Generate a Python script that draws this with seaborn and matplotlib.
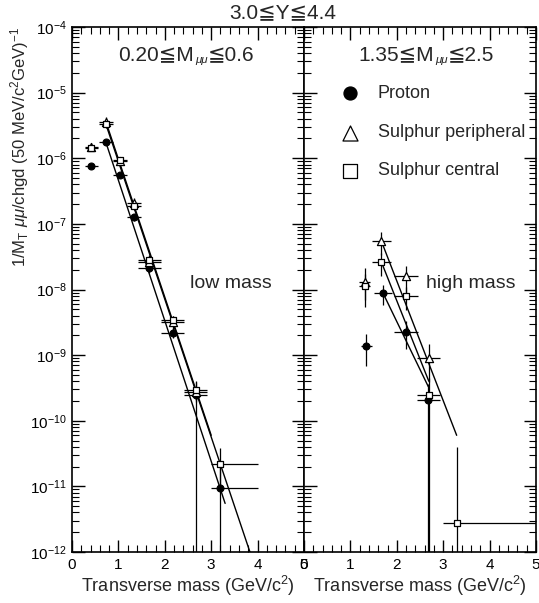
import numpy as np
import pandas as pd
import matplotlib
matplotlib.use("Agg")
import matplotlib.pyplot as plt
import matplotlib.ticker as mticker
import seaborn as sns

sns.set_theme(style="ticks")
plt.rcParams['font.family'] = ['Liberation Sans', 'DejaVu Sans', 'Noto Sans CJK JP']
plt.rcParams['mathtext.fontset'] = 'custom'
plt.rcParams['mathtext.rm'] = 'Liberation Sans'
plt.rcParams['mathtext.it'] = 'Liberation Sans:italic'
plt.rcParams['mathtext.bf'] = 'Liberation Sans:bold'

# ---------------- data ----------------
# Left panel: low mass 0.20 <= M <= 0.6
low_p_x = [0.42, 0.73, 1.03, 1.34, 1.67, 2.17, 2.67, 3.20]
low_p_y = [7.7e-7, 1.75e-6, 5.5e-7, 1.27e-7, 2.1e-8, 2.2e-9, 2.45e-10, 9.3e-12]
low_p_xlo = [0.15, 0.15, 0.15, 0.15, 0.25, 0.25, 0.25, 0.20]
low_p_xhi = [0.15, 0.15, 0.15, 0.15, 0.25, 0.25, 0.25, 0.80]
low_p_ylo = [0.5e-7, 1.5e-7, 0.5e-7, 1.5e-8, 3e-9, 4e-10, 5e-11, 9.29e-12]
low_p_yhi = [0.5e-7, 1.5e-7, 0.5e-7, 1.5e-8, 3e-9, 4e-10, 5e-11, 1.5e-11]

low_sp_x = [0.42, 0.73, 1.03, 1.34, 1.67, 2.17, 2.67]
low_sp_y = [1.5e-6, 3.6e-6, 9.0e-7, 2.1e-7, 2.6e-8, 3.2e-9, 2.7e-10]
low_sp_xlo = [0.15, 0.15, 0.15, 0.15, 0.25, 0.25, 0.25]
low_sp_xhi = [0.15, 0.15, 0.15, 0.15, 0.25, 0.25, 0.25]
low_sp_ylo = [2e-7, 6e-7, 1.5e-7, 4e-8, 6e-9, 8e-10, 2.69e-10]
low_sp_yhi = [2e-7, 6e-7, 1.5e-7, 4e-8, 6e-9, 8e-10, 1.2e-10]

low_sc_x = [0.42, 0.73, 1.03, 1.34, 1.67, 2.17, 2.67, 3.20]
low_sc_y = [1.45e-6, 3.3e-6, 9.3e-7, 1.9e-7, 2.8e-8, 3.4e-9, 2.9e-10, 2.2e-11]
low_sc_xlo = [0.15, 0.15, 0.15, 0.15, 0.25, 0.25, 0.25, 0.20]
low_sc_xhi = [0.15, 0.15, 0.15, 0.15, 0.25, 0.25, 0.25, 0.80]
low_sc_ylo = [1.5e-7, 4e-7, 1.2e-7, 3e-8, 5e-9, 6e-10, 8e-11, 1.2e-11]
low_sc_yhi = [1.5e-7, 4e-7, 1.2e-7, 3e-8, 5e-9, 6e-10, 1.2e-10, 1.6e-11]

# Right panel: high mass 1.35 <= M <= 2.5
high_p_x = [1.34, 1.70, 2.20, 2.68]
high_p_y = [1.38e-9, 8.9e-9, 2.26e-9, 2.1e-10]
high_p_xlo = [0.12, 0.20, 0.25, 0.25]
high_p_xhi = [0.12, 0.20, 0.25, 0.25]
high_p_ylo = [7e-10, 3e-9, 1e-9, 2.09e-10]
high_p_yhi = [7e-10, 3e-9, 1e-9, 1.5e-10]

high_sp_x = [1.31, 1.67, 2.20, 2.69]
high_sp_y = [1.3e-8, 5.4e-8, 1.58e-8, 8.9e-10]
high_sp_xlo = [0.12, 0.20, 0.25, 0.25]
high_sp_xhi = [0.12, 0.20, 0.25, 0.25]
high_sp_ylo = [6e-9, 2e-8, 7e-9, 5e-10]
high_sp_yhi = [8e-9, 2e-8, 7e-9, 6e-10]

high_sc_x = [1.31, 1.67, 2.20, 2.69, 3.30]
high_sc_y = [1.15e-8, 2.6e-8, 7.9e-9, 2.5e-10, 2.8e-12]
high_sc_xlo = [0.12, 0.20, 0.25, 0.25, 0.30]
high_sc_xhi = [0.12, 0.20, 0.25, 0.25, 1.70]
high_sc_ylo = [6e-9, 1e-8, 3e-9, 2.49e-10, 2.79e-12]
high_sc_yhi = [6e-9, 1e-8, 3e-9, 2e-10, 3.7e-11]

# exponential fits: (x start, x end), (y start, y end)
low_fit_p = ([0.73, 3.30], [1.75e-6, 5.5e-12])
low_fit_sp = ([0.73, 3.00], [3.6e-6, 6e-11])
low_fit_sc = ([0.73, 4.00], [3.3e-6, 4.5e-13])
high_fit_p = ([1.70, 2.68], [8.9e-9, 3.3e-10])
high_fit_sp = ([1.67, 3.29], [5.4e-8, 6e-11])
high_fit_sc = ([1.67, 2.69], [2.6e-8, 4e-10])

x_ticks = [0, 1, 2, 3, 4, 5]
title_text = "3.0≦Y≦4.4"
left_label_parts = ["0.20≦M", "μμ", "≦0.6"]
right_label_parts = ["1.35≦M", "μμ", "≦2.5"]
series_names = ["Proton", "Sulphur peripheral", "Sulphur central"]
xlabel = r"Transverse mass (GeV/c$^2$)"
ylabel = r"1/M$_{\rm T}$ $\mu\mu$/chgd (50 MeV/c$^2$GeV)$^{-1}$"

# ---------------- figure ----------------
fig = plt.figure(figsize=(5.39, 6.03), dpi=100)
axL = fig.add_axes([72/539, 51/603, 232/539, 525/603])
axR = fig.add_axes([304/539, 51/603, 232/539, 525/603])

styles = {
    "Proton": dict(marker="o", s=24, s_leg=88, facecolor="black"),
    "Sulphur peripheral": dict(marker="^", s=34, s_leg=117, facecolor="white"),
    "Sulphur central": dict(marker="s", s=25, s_leg=100, facecolor="white"),
}

def draw_series(ax, name, x, y, xlo, xhi, ylo, yhi):
    ax.errorbar(x, y, xerr=[xlo, xhi], yerr=[ylo, yhi], fmt="none",
                ecolor="black", elinewidth=0.9, capsize=0, zorder=2)
    df = pd.DataFrame({"x": x, "y": y})
    st = styles[name]
    sns.scatterplot(data=df, x="x", y="y", ax=ax, marker=st["marker"], s=st["s"],
                    facecolor=st["facecolor"], edgecolor="black", linewidth=0.9,
                    zorder=4, legend=False)

def draw_fit(ax, fit):
    df = pd.DataFrame({"x": fit[0], "y": fit[1]})
    sns.lineplot(data=df, x="x", y="y", ax=ax, color="black", lw=1.0,
                 zorder=3, legend=False, estimator=None)

def panel_label(ax, x0, y0, parts, size=15):
    t1 = ax.text(x0, y0, parts[0], transform=ax.transAxes, ha="left",
                 va="baseline", fontsize=size)
    t2 = ax.annotate(parts[1], xy=(1.0, 0.0), xycoords=t1, xytext=(0.5, 0.5),
                     textcoords="offset points", ha="left", va="baseline",
                     fontsize=size * 0.55, style="italic")
    ax.annotate(parts[2], xy=(1.0, 0.0), xycoords=(t2, t1), xytext=(0.5, 0),
                textcoords="offset points", ha="left", va="bottom", fontsize=size)

draw_fit(axL, low_fit_p); draw_fit(axL, low_fit_sp); draw_fit(axL, low_fit_sc)
draw_series(axL, "Proton", low_p_x, low_p_y, low_p_xlo, low_p_xhi, low_p_ylo, low_p_yhi)
draw_series(axL, "Sulphur peripheral", low_sp_x, low_sp_y, low_sp_xlo, low_sp_xhi, low_sp_ylo, low_sp_yhi)
draw_series(axL, "Sulphur central", low_sc_x, low_sc_y, low_sc_xlo, low_sc_xhi, low_sc_ylo, low_sc_yhi)

draw_fit(axR, high_fit_p); draw_fit(axR, high_fit_sp); draw_fit(axR, high_fit_sc)
draw_series(axR, "Proton", high_p_x, high_p_y, high_p_xlo, high_p_xhi, high_p_ylo, high_p_yhi)
draw_series(axR, "Sulphur peripheral", high_sp_x, high_sp_y, high_sp_xlo, high_sp_xhi, high_sp_ylo, high_sp_yhi)
draw_series(axR, "Sulphur central", high_sc_x, high_sc_y, high_sc_xlo, high_sc_xhi, high_sc_ylo, high_sc_yhi)

for ax in (axL, axR):
    ax.set_yscale("log")
    ax.set_ylim(1e-12, 1e-4)
    ax.set_xlim(0, 5)
    ax.set_xticks(x_ticks)
    ax.set_xticklabels([str(t) for t in x_ticks])
    ax.xaxis.set_minor_locator(mticker.MultipleLocator(0.2))
    ax.yaxis.set_major_locator(mticker.LogLocator(base=10, numticks=20))
    ax.yaxis.set_minor_locator(mticker.LogLocator(base=10, subs=np.arange(2, 10), numticks=20))
    ax.yaxis.set_minor_formatter(mticker.NullFormatter())
    ax.tick_params(which="both", direction="in", top=True, right=True,
                   colors="black", labelsize=11)
    ax.tick_params(which="major", length=9, width=1, pad=4)
    ax.tick_params(which="minor", length=5, width=0.8)
    for sp in ax.spines.values():
        sp.set_linewidth(1.2)
        sp.set_color("black")
    ax.set_xlabel(xlabel, fontsize=13, labelpad=2)
    ax.set_ylabel("")

axR.tick_params(labelleft=False)
fig.text(20/539, 1 - 27/603, ylabel, rotation=90, ha="center", va="top", fontsize=12)

panel_label(axL, 0.20, 0.937, left_label_parts)
panel_label(axR, 0.235, 0.937, right_label_parts)
axL.text(0.51, 0.512, "low mass", transform=axL.transAxes, ha="left", va="center", fontsize=14)
axR.text(0.527, 0.512, "high mass", transform=axR.transAxes, ha="left", va="center", fontsize=14)
fig.text(283/539, 1 - 13/603, title_text, ha="center", va="center", fontsize=15)

# legend drawn as markers + text in the right panel
leg_y = [0.874, 0.799, 0.726]
for name, yy in zip(series_names, leg_y):
    st = styles[name]
    axR.scatter([0.20], [yy], transform=axR.transAxes, marker=st["marker"], s=st["s_leg"],
                facecolor=st["facecolor"], edgecolor="black", linewidth=0.9, clip_on=False, zorder=5)
    axR.text(0.318, yy, name, transform=axR.transAxes, ha="left", va="center", fontsize=13)

fig.savefig("out.png", dpi=100)
